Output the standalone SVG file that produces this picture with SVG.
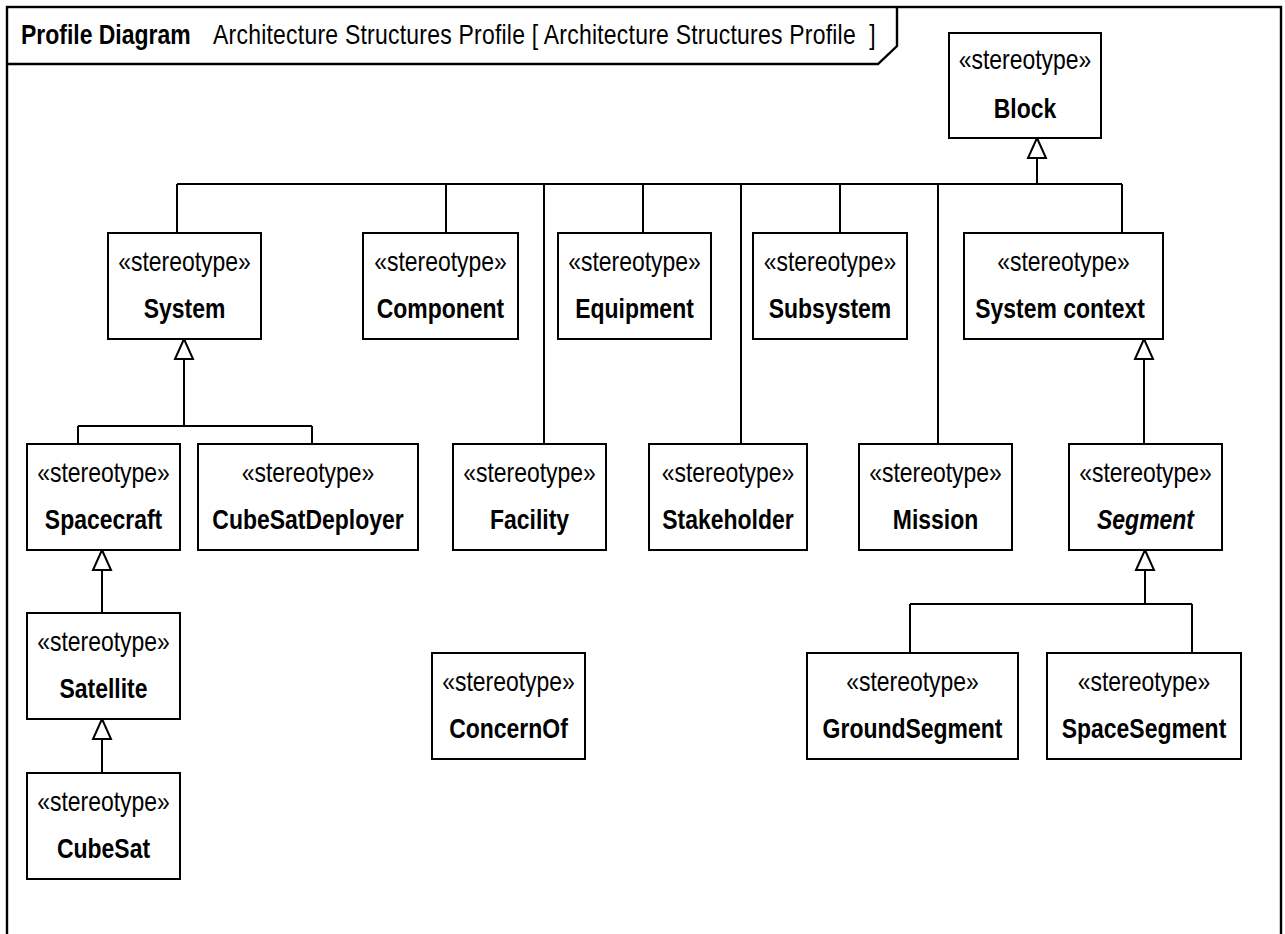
<svg xmlns="http://www.w3.org/2000/svg" width="1285" height="934" viewBox="0 0 1285 934">
<style>
  .frame { fill: #fff; stroke: #000; stroke-width: 2.4; }
  .box { fill: #fff; stroke: #000; stroke-width: 2; }
  .st { font-family: "Liberation Sans", Arial, sans-serif; font-size: 28px; text-anchor: middle; fill: #000; }
  .nm { font-family: "Liberation Sans", Arial, sans-serif; font-size: 28px; font-weight: bold; text-anchor: middle; fill: #000; }
  .it { font-style: italic; }
  .title { font-family: "Liberation Sans", Arial, sans-serif; font-size: 28px; fill: #000; white-space: pre; }
  .conn path { fill: none; stroke: #000; stroke-width: 2; }
</style>
<defs>
  <polygon id="tri" points="0,0 -9,20 9,20"/>
</defs>
<rect width="1285" height="934" fill="#fff"/>
<g id="frame">
  <rect class="frame" x="7" y="7" width="1274" height="940"/>
  <path d="M7,64 L878,64 L897,46 L897,7" fill="none" stroke="#000" stroke-width="2.4"/>
  <text class="title" transform="translate(21,44) scale(0.82,1)" font-weight="bold">Profile Diagram</text>
  <text class="title" transform="translate(213,44) scale(0.82,1)" xml:space="preserve" textLength="808" lengthAdjust="spacing">Architecture Structures Profile [ Architecture Structures Profile  ]</text>
</g>
<g id="connectors" class="conn">
  <path d="M1037,158 V184 M177,184 H1122 M177,184 V233 M446,184 V233 M544,184 V444 M643,184 V233 M741,184 V444 M840,184 V233 M938,184 V444 M1122,184 V233"/>
  <use href="#tri" x="1037" y="138" fill="#fff" stroke="#000" stroke-width="2"/>
  <path d="M184,358 V426 M78,426 H312 M78,426 V444 M312,426 V444"/>
  <use href="#tri" x="184" y="339" fill="#fff" stroke="#000" stroke-width="2"/>
  <path d="M102,569 V613"/>
  <use href="#tri" x="102" y="550" fill="#fff" stroke="#000" stroke-width="2"/>
  <path d="M102,738 V773"/>
  <use href="#tri" x="102" y="719" fill="#fff" stroke="#000" stroke-width="2"/>
  <path d="M1144,358 V444"/>
  <use href="#tri" x="1144" y="339" fill="#fff" stroke="#000" stroke-width="2"/>
  <path d="M1145,569 V604 M910,604 H1192 M910,604 V653 M1192,604 V653"/>
  <use href="#tri" x="1145" y="550" fill="#fff" stroke="#000" stroke-width="2"/>
</g>
<g id="Block"><rect class="box" x="949" y="33" width="152" height="105"/><text class="st" transform="translate(1025,69) scale(0.82,1)">«stereotype»</text><text class="nm" transform="translate(1025,118) scale(0.82,1)">Block</text></g>
<g id="System"><rect class="box" x="108" y="233" width="153" height="106"/><text class="st" transform="translate(184.5,271) scale(0.82,1)">«stereotype»</text><text class="nm" transform="translate(184.5,318) scale(0.82,1)">System</text></g>
<g id="Component"><rect class="box" x="363" y="233" width="155" height="106"/><text class="st" transform="translate(440.5,271) scale(0.82,1)">«stereotype»</text><text class="nm" transform="translate(440.5,318) scale(0.82,1)">Component</text></g>
<g id="Equipment"><rect class="box" x="558" y="233" width="153" height="106"/><text class="st" transform="translate(634.5,271) scale(0.82,1)">«stereotype»</text><text class="nm" transform="translate(634.5,318) scale(0.82,1)">Equipment</text></g>
<g id="Subsystem"><rect class="box" x="753" y="233" width="154" height="106"/><text class="st" transform="translate(830,271) scale(0.82,1)">«stereotype»</text><text class="nm" transform="translate(830,318) scale(0.82,1)">Subsystem</text></g>
<g id="SystemContext"><rect class="box" x="964" y="233" width="199" height="106"/><text class="st" transform="translate(1063.5,271) scale(0.82,1)">«stereotype»</text><text class="nm" transform="translate(1060,318) scale(0.82,1)">System context</text></g>
<g id="Spacecraft"><rect class="box" x="27" y="444" width="153" height="106"/><text class="st" transform="translate(103.5,482) scale(0.82,1)">«stereotype»</text><text class="nm" transform="translate(103.5,529) scale(0.82,1)">Spacecraft</text></g>
<g id="CubeSatDeployer"><rect class="box" x="198" y="444" width="220" height="106"/><text class="st" transform="translate(308,482) scale(0.82,1)">«stereotype»</text><text class="nm" transform="translate(308,529) scale(0.82,1)">CubeSatDeployer</text></g>
<g id="Facility"><rect class="box" x="453" y="444" width="153" height="106"/><text class="st" transform="translate(529.5,482) scale(0.82,1)">«stereotype»</text><text class="nm" transform="translate(529.5,529) scale(0.82,1)">Facility</text></g>
<g id="Stakeholder"><rect class="box" x="649" y="444" width="158" height="106"/><text class="st" transform="translate(728,482) scale(0.82,1)">«stereotype»</text><text class="nm" transform="translate(728,529) scale(0.82,1)">Stakeholder</text></g>
<g id="Mission"><rect class="box" x="859" y="444" width="153" height="106"/><text class="st" transform="translate(935.5,482) scale(0.82,1)">«stereotype»</text><text class="nm" transform="translate(935.5,529) scale(0.82,1)">Mission</text></g>
<g id="Segment"><rect class="box" x="1069" y="444" width="153" height="106"/><text class="st" transform="translate(1145.5,482) scale(0.82,1)">«stereotype»</text><text class="nm it" transform="translate(1145.5,529) scale(0.82,1)">Segment</text></g>
<g id="Satellite"><rect class="box" x="27" y="613" width="153" height="106"/><text class="st" transform="translate(103.5,651) scale(0.82,1)">«stereotype»</text><text class="nm" transform="translate(103.5,698) scale(0.82,1)">Satellite</text></g>
<g id="CubeSat"><rect class="box" x="27" y="773" width="153" height="106"/><text class="st" transform="translate(103.5,811) scale(0.82,1)">«stereotype»</text><text class="nm" transform="translate(103.5,858) scale(0.82,1)">CubeSat</text></g>
<g id="ConcernOf"><rect class="box" x="432" y="653" width="153" height="106"/><text class="st" transform="translate(508.5,691) scale(0.82,1)">«stereotype»</text><text class="nm" transform="translate(508.5,738) scale(0.82,1)">ConcernOf</text></g>
<g id="GroundSegment"><rect class="box" x="807" y="653" width="211" height="106"/><text class="st" transform="translate(912.5,691) scale(0.82,1)">«stereotype»</text><text class="nm" transform="translate(912.5,738) scale(0.82,1)">GroundSegment</text></g>
<g id="SpaceSegment"><rect class="box" x="1047" y="653" width="194" height="106"/><text class="st" transform="translate(1144,691) scale(0.82,1)">«stereotype»</text><text class="nm" transform="translate(1144,738) scale(0.82,1)">SpaceSegment</text></g>
</svg>
